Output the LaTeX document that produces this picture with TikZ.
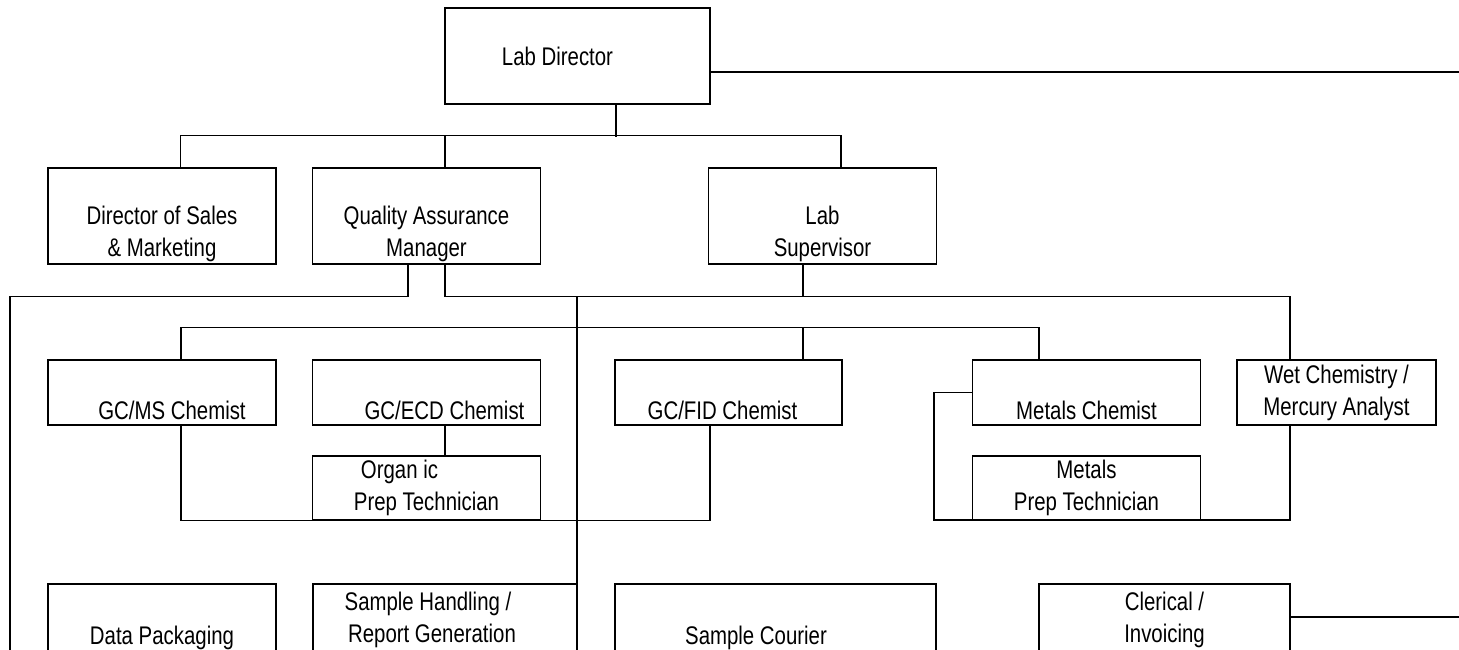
\documentclass[tikz,border=0pt]{standalone}
\usepackage{fontspec}
\newfontfamily\chartfont[FakeStretch=0.8]{Liberation Sans}
\usepackage{tikz}

\begin{document}
\begin{tikzpicture}[x=1pt,y=-1pt,line width=1.4pt,
  box/.style={rectangle,draw,align=center,inner sep=0pt,minimum width=228pt,
    font=\chartfont\fontsize{25.5}{32}\selectfont},
  bigbox/.style={box,minimum height=96pt},
  midbox/.style={box,minimum height=65pt},
  lowbox/.style={box,minimum height=72pt}]
\useasboundingbox (0,0) rectangle (1459,649);
\clip (0,0) rectangle (1459,649);
% top two levels
\node [bigbox,minimum width=265pt] (dir) at (577.5,56) {Lab Director\hspace*{40pt}};
\node [bigbox] (dos) at (162,216) {\strut\\Director of Sales\\\& Marketing};
\node [bigbox] (qam) at (426.5,216) {\strut\\Quality Assurance\\Manager};
\node [bigbox] (sup) at (822.5,216) {\strut\\Lab\\Supervisor};
% chemists
\node [midbox] (gcms) at (162,392.5) {\strut\\\hspace*{20pt}GC/MS Chemist};
\node [midbox] (gcecd) at (426.5,392.5) {\strut\\\hspace*{36pt}GC/ECD Chemist};
\node [midbox,minimum width=227pt] (gcfid) at (728.5,392.5) {\strut\\GC/FID Chemist\hspace*{12pt}};
\node [midbox] (metals) at (1086.5,392.5) {\strut\\Metals Chemist};
\node [midbox,minimum width=199pt] (wet) at (1336.5,392.5) {Wet Chemistry /\\Mercury Analyst};
\node [box,minimum height=64pt] (orgprep) at (426.5,488) {Organ ic\hspace*{54pt}\\Prep Technician};
\node [box,minimum height=64pt] (metprep) at (1086.5,488) {Metals\\Prep Technician};
% bottom row
\node [lowbox] (datapk) at (162,620) {\strut\\Data Packaging};
\node [lowbox,minimum width=264pt] (handling) at (445,620) {Sample Handling /\hspace*{34pt}\\Report Generation\hspace*{26pt}};
\node [lowbox,minimum width=321pt] (courier) at (775.5,620) {\strut\\Sample Courier\hspace*{39pt}};
\node [lowbox,minimum width=251pt] (clerical) at (1164.5,620) {Clerical /\\Invoicing};

\coordinate (dirout) at (1459,72);
\coordinate (clerout) at (1459,617);
\coordinate (leftend) at (10,660);
\coordinate (trunk) at (577,296);

\draw (dirout -| dir.east) -- (dirout);
\draw ([xshift=38.5pt]dir.south) -- ++(0,32);
\draw ([xshift=18.5pt]dos.north) -- ++(0,-32) -| ([xshift=18.5pt]sup.north);
\draw ([xshift=18.5pt]qam.north) -- ++(0,-32);
\draw ([xshift=-18.5pt]qam.south) -- ++(0,32) -| (leftend);
\draw ([xshift=18.5pt]qam.south) -- ++(0,32) -| ([xshift=-46.5pt]wet.north);
\draw ([xshift=-19.5pt]sup.south) -- ++(0,32);
\draw (trunk) -- (trunk |- leftend);
\draw ([xshift=19pt]gcms.north) -- ++(0,-32) -| ([xshift=-47.5pt]metals.north);
\draw ([xshift=74.5pt]gcfid.north) -- ++(0,-32);
\draw ([xshift=18.5pt]gcecd.south) -- ([xshift=18.5pt]orgprep.north);
\draw ([xshift=19pt]gcms.south) -- ++(0,95) -| ([xshift=-18.5pt]gcfid.south);
\draw (metals.west) -- ++(-38,0) -- ++(0,127.5) -| ([xshift=-46.5pt]wet.south);
\draw (clerout -| clerical.east) -- (clerout);
\end{tikzpicture}
\end{document}
